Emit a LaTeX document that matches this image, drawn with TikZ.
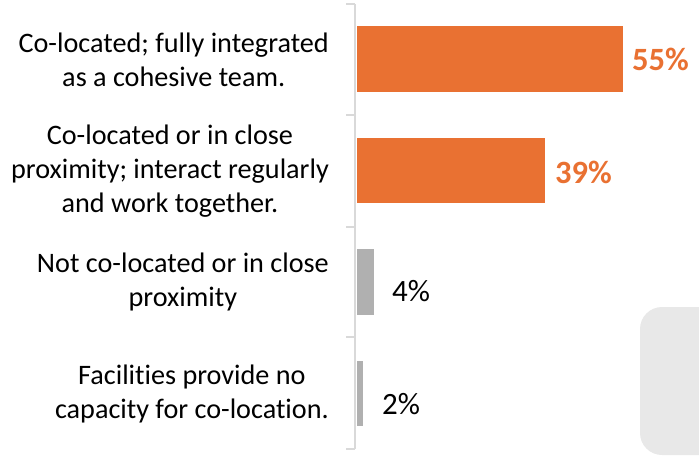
\documentclass[tikz,border=0pt]{standalone}
\usepackage{fontspec}
\setmainfont{Carlito}[Ligatures=NoCommon]
\definecolor{barorange}{HTML}{E97132}
\definecolor{bargray}{HTML}{B0B0B0}
\definecolor{axisgray}{HTML}{D9D9D9}
\definecolor{panelgray}{HTML}{E8E8E8}
\begin{document}
\begin{tikzpicture}[x=1pt,y=-1pt,
  cat/.style={anchor=east,align=center,inner sep=0pt,font=\fontsize{28.2}{34}\selectfont},
  val/.style={anchor=west,inner sep=0pt,font=\fontsize{31}{36}\selectfont},
  hival/.style={val,text=barorange,font=\fontsize{32.5}{36}\selectfont\bfseries},
  hibar/.style={fill=barorange,draw=none},
  lobar/.style={fill=bargray,draw=none}]
\useasboundingbox (0,0) rectangle (699,459);
% background panel
\fill[panelgray,rounded corners=22pt] (640,307) rectangle (730,455);
% axis
\draw[axisgray,line width=1.5pt] (355,4) -- (355,449);
\foreach \y in {4,115,227,337,449} \draw[axisgray,line width=1.5pt] (346,\y) -- (355,\y);
% bars
\path[hibar] (357,26) rectangle (623,92);
\path[hibar] (357,138) rectangle (545,203);
\path[lobar] (357,249) rectangle (374,315);
\path[lobar] (357,361) rectangle (363,426);
\node (c1) [cat] at (329,60) {Co-located; fully integrated\\as a cohesive team.};
\node (c2) [cat] at (329,171) {Co-located or in close\\proximity; interact regularly\\and work together.};
\node (c3) [cat] at (329,282) {Not co-located or in close\\proximity};
\node (c4) [cat] at (329,394) {Facilities provide no\\capacity for co-location.};
\node (v1) [hival] at (632,59) {55\%};
\node (v2) [hival] at (555,172) {39\%};
\node (v3) [val] at (392,291) {4\%};
\node (v4) [val] at (382,404) {2\%};
\end{tikzpicture}
\end{document}
